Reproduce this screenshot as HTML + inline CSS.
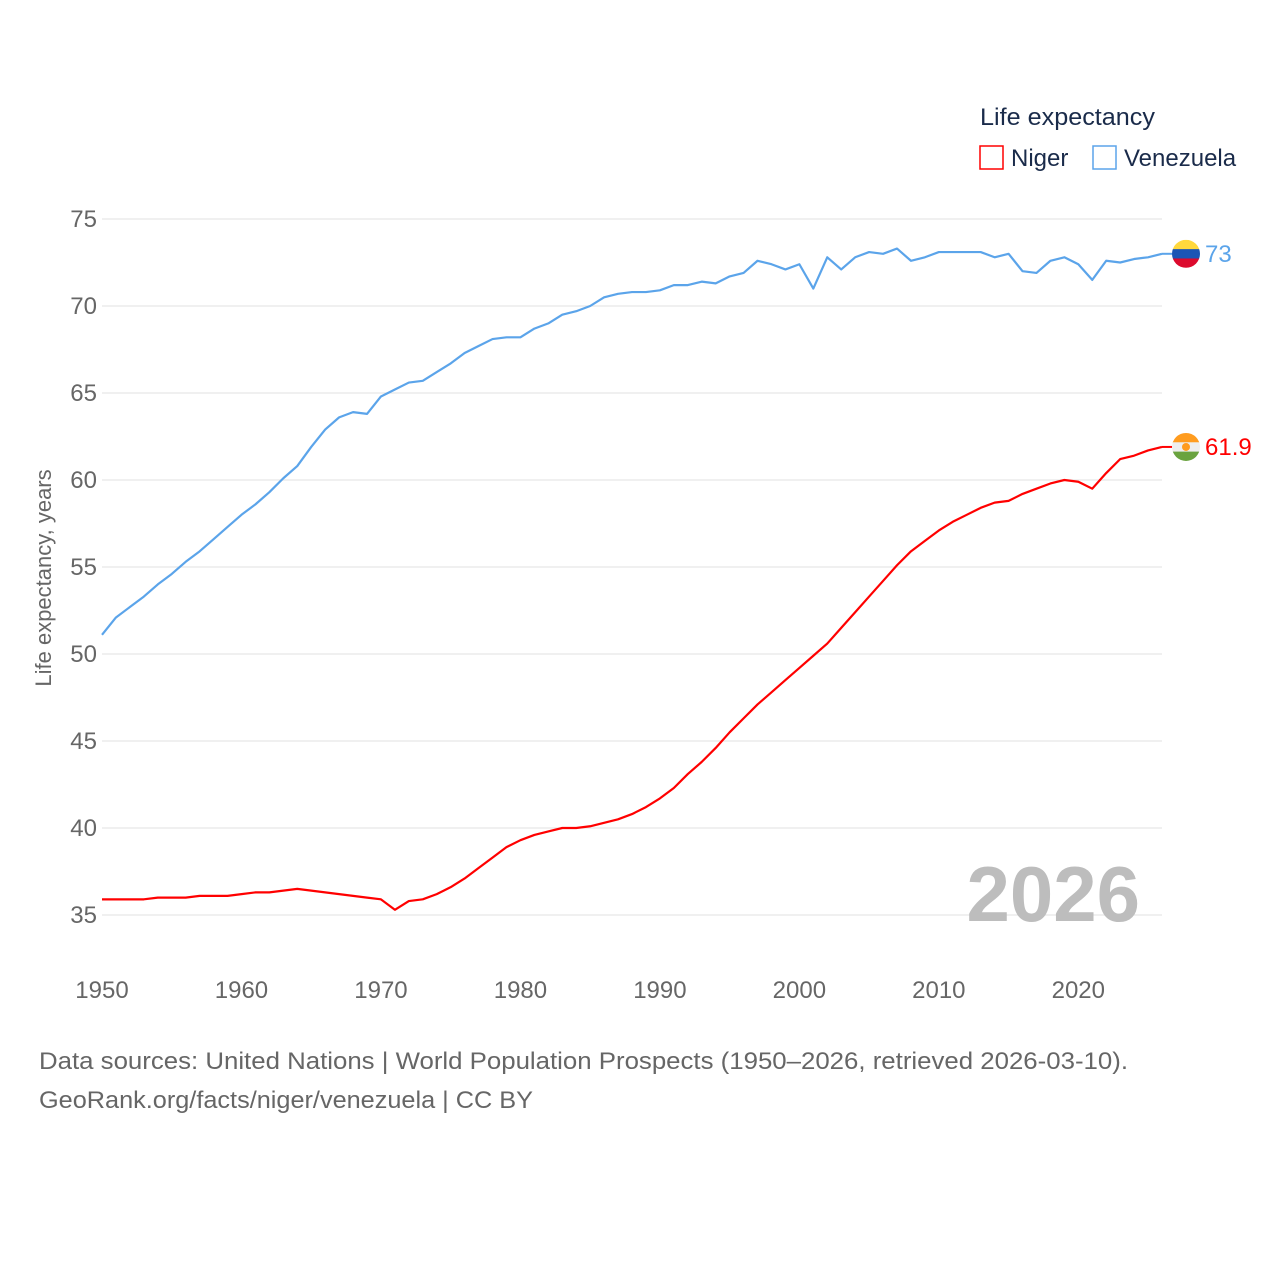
<!DOCTYPE html>
<html><head><meta charset="utf-8"><style>
body{margin:0;background:#fff;font-family:"Liberation Sans",sans-serif}
svg text{font-family:"Liberation Sans",sans-serif}
</style></head><body>
<svg id="chart" width="1280" height="1280" viewBox="0 0 1280 1280" xmlns="http://www.w3.org/2000/svg">
<rect width="1280" height="1280" fill="#fff"/>
<g id="grid"></g>
<g id="yticks"></g>
<g id="xticks"></g>
<text x="0" y="0" transform="translate(51,578) rotate(-90)" text-anchor="middle" font-size="22" fill="#666">Life expectancy, years</text>
<text x="1140" y="921" text-anchor="end" font-size="78" font-weight="bold" fill="#bdbdbd">2026</text>
<g id="series"></g>
<g>
<text x="980" y="125" font-size="24" fill="#1a2b4a" textLength="175" lengthAdjust="spacingAndGlyphs">Life expectancy</text>
<g>
<rect x="980" y="146" width="23" height="23" fill="none" stroke="#ff0000" stroke-width="1.5"/>
<text x="1011" y="166" font-size="24" fill="#1a2b4a">Niger</text></g>
<g>
<rect x="1093" y="146" width="23" height="23" fill="none" stroke="#5ba4ea" stroke-width="1.5"/>
<text x="1124" y="166" font-size="24" fill="#1a2b4a">Venezuela</text></g>
</g>
<text x="39" y="1069" font-size="24" fill="#666" textLength="1089" lengthAdjust="spacingAndGlyphs">Data sources: United Nations | World Population Prospects (1950–2026, retrieved 2026-03-10).</text>
<text x="39" y="1108" font-size="24" fill="#666" textLength="494" lengthAdjust="spacingAndGlyphs">GeoRank.org/facts/niger/venezuela | CC BY</text>
</svg>
<script>
const years=[];for(let y=1950;y<=2026;y++)years.push(y);
const venezuela=[51.1,52.1,52.7,53.3,54.0,54.6,55.3,55.9,56.6,57.3,58.0,58.6,59.3,60.1,60.8,61.9,62.9,63.6,63.9,63.8,64.8,65.2,65.6,65.7,66.2,66.7,67.3,67.7,68.1,68.2,68.2,68.7,69.0,69.5,69.7,70.0,70.5,70.7,70.8,70.8,70.9,71.2,71.2,71.4,71.3,71.7,71.9,72.6,72.4,72.1,72.4,71.0,72.8,72.1,72.8,73.1,73.0,73.3,72.6,72.8,73.1,73.1,73.1,73.1,72.8,73.0,72.0,71.9,72.6,72.8,72.4,71.5,72.6,72.5,72.7,72.8,73.0];
const niger=[35.9,35.9,35.9,35.9,36.0,36.0,36.0,36.1,36.1,36.1,36.2,36.3,36.3,36.4,36.5,36.4,36.3,36.2,36.1,36.0,35.9,35.3,35.8,35.9,36.2,36.6,37.1,37.7,38.3,38.9,39.3,39.6,39.8,40.0,40.0,40.1,40.3,40.5,40.8,41.2,41.7,42.3,43.1,43.8,44.6,45.5,46.3,47.1,47.8,48.5,49.2,49.9,50.6,51.5,52.4,53.3,54.2,55.1,55.9,56.5,57.1,57.6,58.0,58.4,58.7,58.8,59.2,59.5,59.8,60.0,59.9,59.5,60.4,61.2,61.4,61.7,61.9];
const yTicks=[35,40,45,50,55,60,65,70,75];
const xTicks=[1950,1960,1970,1980,1990,2000,2010,2020];
const NS='http://www.w3.org/2000/svg';
const X=y=>102+(y-1950)*(1162-102)/76;
const Y=v=>219+(75-v)*(915-219)/40;
function mk(tag,attrs,parent){const e=document.createElementNS(NS,tag);for(const k in attrs)e.setAttribute(k,attrs[k]);parent.appendChild(e);return e;}
const grid=document.getElementById('grid'),yt=document.getElementById('yticks'),xt=document.getElementById('xticks'),ser=document.getElementById('series');
yTicks.forEach(v=>{
 const l=mk('line',{x1:102,x2:1162,y1:Y(v),y2:Y(v),stroke:'#e6e6e6','stroke-width':1.3},grid);
 
 
 const t=mk('text',{x:97,y:Y(v)+8,'text-anchor':'end','font-size':24,fill:'#666'},yt);t.textContent=v;
 
 
});
xTicks.forEach(v=>{
 const t=mk('text',{x:X(v),y:998,'text-anchor':'middle','font-size':24,fill:'#666'},xt);t.textContent=v;
 
 
});
function line(data,color,name){
 const p=mk('polyline',{points:data.map((v,i)=>X(years[i])+','+Y(v)).join(' '),fill:'none',stroke:color,'stroke-width':2.2,'stroke-linejoin':'round'},ser);
 
 
}
line(venezuela,'#5ba4ea','venezuela');
line(niger,'#ff0000','niger');
function flag(data,name,colors,color,mid){
 const v=data[data.length-1],cx=1186,cy=Y(v);
 const g=mk('g',{},ser);
 
 
 mk('line',{x1:1162,x2:1172,y1:cy,y2:cy,stroke:color,'stroke-width':2},g);
 const id='c'+name;const cp=mk('clipPath',{id:id},g);mk('circle',{cx:cx,cy:cy,r:14},cp);
 const gg=mk('g',{'clip-path':'url(#'+id+')'},g);
 colors.forEach((c,i)=>mk('rect',{x:cx-14,y:cy-14+i*28/3,width:28,height:28/3+0.5,fill:c},gg));
 if(mid)mk('circle',{cx:cx,cy:cy,r:4,fill:mid},gg);
 const t=mk('text',{x:1205,y:cy+8,'font-size':24,fill:color},ser);t.textContent=String(v).replace(/\.0$/,'');
 
 
}
flag(venezuela,'venezuela',['#ffd83d','#1b55b5','#dc0a2d'],'#5ba4ea',null);
flag(niger,'niger',['#ff9c1f','#eeeeee','#6aa33f'],'#ff0000','#ff9c1f');
</script>
</body></html>
